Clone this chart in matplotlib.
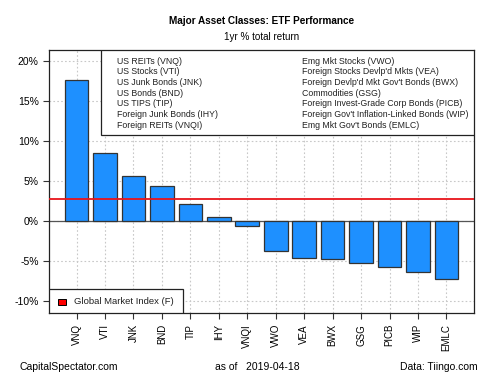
import matplotlib.pyplot as plt
from matplotlib.patches import Rectangle
from matplotlib.ticker import FuncFormatter

plt.rcParams["font.family"] = ["Liberation Sans", "DejaVu Sans"]

tickers = ["VNQ", "VTI", "JNK", "BND", "TIP", "IHY", "VNQI",
           "VWO", "VEA", "BWX", "GSG", "PICB", "WIP", "EMLC"]
returns = [17.6, 8.5, 5.7, 4.4, 2.1, 0.45, -0.65,
           -3.7, -4.6, -4.75, -5.25, -5.8, -6.4, -7.25]
gmi_return = 2.8

names_left = ["US REITs (VNQ)", "US Stocks (VTI)", "US Junk Bonds (JNK)",
              "US Bonds (BND)", "US TIPS (TIP)", "Foreign Junk Bonds (IHY)",
              "Foreign REITs (VNQI)"]
names_right = ["Emg Mkt Stocks (VWO)", "Foreign Stocks Devlp'd Mkts (VEA)",
               "Foreign Devlp'd Mkt Gov't Bonds (BWX)", "Commodities (GSG)",
               "Foreign Invest-Grade Corp Bonds (PICB)",
               "Foreign Gov't Inflation-Linked Bonds (WIP)",
               "Emg Mkt Gov't Bonds (EMLC)"]

fig = plt.figure(figsize=(5, 3.75), dpi=100)
ax = fig.add_axes([0.098, 0.1653, 0.85, 0.7014])

x = list(range(len(tickers)))
ax.set_xlim(-0.97, len(tickers) - 1 + 0.97)
ax.set_ylim(-11.5, 21.4)

ax.set_yticks([-10, -5, 0, 5, 10, 15, 20])
ax.yaxis.set_major_formatter(FuncFormatter(lambda v, p: f"{v:.0f}%"))
ax.set_xticks(x)
ax.set_xticklabels(tickers, rotation=90, fontsize=7)
ax.tick_params(axis="y", labelsize=7.5, length=4, width=0.8, colors="#333333")
ax.tick_params(axis="x", length=4, width=0.8, colors="#333333", pad=4)
for lab in ax.get_yticklabels() + ax.get_xticklabels():
    lab.set_color("black")

ax.grid(True, color="#c8c8c8", linestyle=(0, (1.5, 2)), linewidth=0.8)
ax.set_axisbelow(True)
ax.axhline(0, color="#555555", linewidth=0.9, zorder=1)

ax.bar(x, returns, width=0.833, color="#1E90FF", edgecolor="#333333",
       linewidth=0.9, zorder=2)
ax.axhline(gmi_return, color="#e8141a", linewidth=1.3, zorder=3)

for s in ax.spines.values():
    s.set_color("#222222")
    s.set_linewidth(0.9)

# top legend box
x0, y0 = 0.1224, 0.677
ax.add_patch(Rectangle((x0, y0), 1 - x0, 1 - y0, transform=ax.transAxes,
                       facecolor="white", edgecolor="#222222", linewidth=0.9,
                       zorder=4))
row_h = 0.0407
for i, name in enumerate(names_left):
    ax.text(0.161, 0.958 - i * row_h, name, transform=ax.transAxes,
            fontsize=6.3, va="center", ha="left", color="#222222", zorder=5)
for i, name in enumerate(names_right):
    ax.text(0.595, 0.958 - i * row_h, name, transform=ax.transAxes,
            fontsize=6.3, va="center", ha="left", color="#222222", zorder=5)

# bottom legend box
ax.add_patch(Rectangle((0, 0), 0.3146, 0.090, transform=ax.transAxes,
                       facecolor="white", edgecolor="#222222", linewidth=0.9,
                       zorder=4))
ax.add_patch(Rectangle((0.0204, 0.032), 0.0188, 0.023, transform=ax.transAxes,
                       facecolor="red", edgecolor="black", linewidth=0.7,
                       zorder=5))
ax.text(0.060, 0.044, "Global Market Index (F)", transform=ax.transAxes,
        fontsize=6.8, va="center", ha="left", color="#222222", zorder=5)

fig.text(0.523, 0.945, "Major Asset Classes: ETF Performance",
         fontsize=7.2, fontweight="bold", ha="center", va="center")
fig.text(0.523, 0.900, "1yr % total return", fontsize=7.1,
         ha="center", va="center")

fig.text(0.040, 0.020, "CapitalSpectator.com", fontsize=7.5, ha="left",
         va="center")
fig.text(0.430, 0.020, "as of   2019-04-18", fontsize=7.5, ha="left",
         va="center")
fig.text(0.956, 0.020, "Data: Tiingo.com", fontsize=7.5, ha="right",
         va="center")

fig.savefig("out.png", dpi=100)
